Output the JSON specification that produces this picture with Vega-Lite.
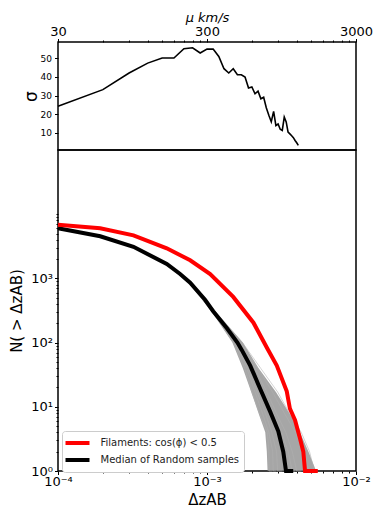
{
  "$schema": "https://vega.github.io/schema/vega-lite/v6.json",
  "padding": {"left": 8, "top": 10, "right": 5, "bottom": 5},
  "spacing": 0,
  "bounds": "flush",
  "config": {
    "font": "DejaVu Sans",
    "view": {"stroke": "black", "strokeWidth": 1.5},
    "axis": {"domain": false, "grid": false, "labelColor": "black", "tickColor": "black", "titleColor": "black", "titleFontWeight": "normal", "labelFlush": false, "labelOverlap": false, "tickWidth": 1}
  },
  "datasets": {
    "band": [
      {"n": 1000, "lo": 0.00071, "hi": 0.000735},
      {"n": 300, "lo": 0.00108, "hi": 0.00115},
      {"n": 100, "lo": 0.00148, "hi": 0.00174},
      {"n": 40, "lo": 0.00174, "hi": 0.00222},
      {"n": 17, "lo": 0.00198, "hi": 0.0029},
      {"n": 7, "lo": 0.00226, "hi": 0.0037},
      {"n": 4, "lo": 0.00246, "hi": 0.0042},
      {"n": 2, "lo": 0.00252, "hi": 0.0048},
      {"n": 1, "lo": 0.00255, "hi": 0.0054}
    ],
    "samples": [
      {"id": "A", "dz": 0.00072, "n": 1000}, {"id": "A", "dz": 0.00109, "n": 300}, {"id": "A", "dz": 0.0015, "n": 100}, {"id": "A", "dz": 0.00179, "n": 40}, {"id": "A", "dz": 0.0020, "n": 17}, {"id": "A", "dz": 0.00229, "n": 7}, {"id": "A", "dz": 0.00254, "n": 4}, {"id": "A", "dz": 0.0026, "n": 2}, {"id": "A", "dz": 0.00261, "n": 1}, {"id": "A", "dz": 0.00275, "n": 1},
      {"id": "B", "dz": 0.00072, "n": 1000}, {"id": "B", "dz": 0.0011, "n": 300}, {"id": "B", "dz": 0.00155, "n": 100}, {"id": "B", "dz": 0.00189, "n": 40}, {"id": "B", "dz": 0.00217, "n": 17}, {"id": "B", "dz": 0.00251, "n": 7}, {"id": "B", "dz": 0.00272, "n": 4}, {"id": "B", "dz": 0.00293, "n": 2}, {"id": "B", "dz": 0.00298, "n": 1}, {"id": "B", "dz": 0.0032, "n": 1},
      {"id": "C", "dz": 0.00072, "n": 1000}, {"id": "C", "dz": 0.00112, "n": 300}, {"id": "C", "dz": 0.00165, "n": 100}, {"id": "C", "dz": 0.00209, "n": 40}, {"id": "C", "dz": 0.00252, "n": 17}, {"id": "C", "dz": 0.0030, "n": 7}, {"id": "C", "dz": 0.00338, "n": 4}, {"id": "C", "dz": 0.00374, "n": 2}, {"id": "C", "dz": 0.0040, "n": 1}, {"id": "C", "dz": 0.0043, "n": 1},
      {"id": "D", "dz": 0.00072, "n": 1000}, {"id": "D", "dz": 0.00113, "n": 300}, {"id": "D", "dz": 0.00168, "n": 100}, {"id": "D", "dz": 0.00219, "n": 40}, {"id": "D", "dz": 0.00275, "n": 17}, {"id": "D", "dz": 0.00341, "n": 7}, {"id": "D", "dz": 0.00393, "n": 4}, {"id": "D", "dz": 0.00449, "n": 2}, {"id": "D", "dz": 0.00481, "n": 1}, {"id": "D", "dz": 0.0052, "n": 1},
      {"id": "E", "dz": 0.00072, "n": 1000}, {"id": "E", "dz": 0.00114, "n": 300}, {"id": "E", "dz": 0.00173, "n": 100}, {"id": "E", "dz": 0.00229, "n": 40}, {"id": "E", "dz": 0.00298, "n": 17}, {"id": "E", "dz": 0.00369, "n": 7}, {"id": "E", "dz": 0.00429, "n": 4}, {"id": "E", "dz": 0.00488, "n": 2}, {"id": "E", "dz": 0.00525, "n": 1}, {"id": "E", "dz": 0.0055, "n": 1},
      {"id": "F", "dz": 0.00072, "n": 1000}, {"id": "F", "dz": 0.00111, "n": 300}, {"id": "F", "dz": 0.0016, "n": 100}, {"id": "F", "dz": 0.00203, "n": 40}, {"id": "F", "dz": 0.0024, "n": 17}, {"id": "F", "dz": 0.00287, "n": 7}, {"id": "F", "dz": 0.00317, "n": 4}, {"id": "F", "dz": 0.00351, "n": 2}, {"id": "F", "dz": 0.00373, "n": 1}, {"id": "F", "dz": 0.0039, "n": 1},
      {"id": "G", "dz": 0.00072, "n": 1000}, {"id": "G", "dz": 0.0011, "n": 300}, {"id": "G", "dz": 0.00154, "n": 100}, {"id": "G", "dz": 0.00185, "n": 40}, {"id": "G", "dz": 0.0021, "n": 17}, {"id": "G", "dz": 0.0024, "n": 7}, {"id": "G", "dz": 0.0026, "n": 4}, {"id": "G", "dz": 0.00276, "n": 2}, {"id": "G", "dz": 0.00278, "n": 1}, {"id": "G", "dz": 0.0029, "n": 1}
    ],
    "main": [
      {"series": "Median of Random samples", "dz": 0.0001, "n": 6030},
      {"series": "Median of Random samples", "dz": 0.000192, "n": 4530},
      {"series": "Median of Random samples", "dz": 0.000321, "n": 3105},
      {"series": "Median of Random samples", "dz": 0.000537, "n": 1680},
      {"series": "Median of Random samples", "dz": 0.00066, "n": 1170},
      {"series": "Median of Random samples", "dz": 0.000771, "n": 860},
      {"series": "Median of Random samples", "dz": 0.00097, "n": 465},
      {"series": "Median of Random samples", "dz": 0.0011, "n": 308},
      {"series": "Median of Random samples", "dz": 0.00136, "n": 167},
      {"series": "Median of Random samples", "dz": 0.0016, "n": 100},
      {"series": "Median of Random samples", "dz": 0.00171, "n": 77},
      {"series": "Median of Random samples", "dz": 0.00195, "n": 43.8},
      {"series": "Median of Random samples", "dz": 0.00227, "n": 19.3},
      {"series": "Median of Random samples", "dz": 0.00265, "n": 8.5},
      {"series": "Median of Random samples", "dz": 0.00301, "n": 4.15},
      {"series": "Median of Random samples", "dz": 0.00325, "n": 2.0},
      {"series": "Median of Random samples", "dz": 0.00339, "n": 1.0},
      {"series": "Median of Random samples", "dz": 0.00379, "n": 1.0},
      {"series": "Filaments: cos(ϕ) < 0.5", "dz": 0.0001, "n": 6830},
      {"series": "Filaments: cos(ϕ) < 0.5", "dz": 0.000192, "n": 6030},
      {"series": "Filaments: cos(ϕ) < 0.5", "dz": 0.000321, "n": 4680},
      {"series": "Filaments: cos(ϕ) < 0.5", "dz": 0.000537, "n": 2945},
      {"series": "Filaments: cos(ϕ) < 0.5", "dz": 0.000771, "n": 1915},
      {"series": "Filaments: cos(ϕ) < 0.5", "dz": 0.00105, "n": 1170},
      {"series": "Filaments: cos(ϕ) < 0.5", "dz": 0.0015, "n": 514},
      {"series": "Filaments: cos(ϕ) < 0.5", "dz": 0.00205, "n": 204},
      {"series": "Filaments: cos(ϕ) < 0.5", "dz": 0.00254, "n": 81},
      {"series": "Filaments: cos(ϕ) < 0.5", "dz": 0.00294, "n": 43.8},
      {"series": "Filaments: cos(ϕ) < 0.5", "dz": 0.00343, "n": 17.4},
      {"series": "Filaments: cos(ϕ) < 0.5", "dz": 0.0036, "n": 9.4},
      {"series": "Filaments: cos(ϕ) < 0.5", "dz": 0.0039, "n": 6.2},
      {"series": "Filaments: cos(ϕ) < 0.5", "dz": 0.00421, "n": 3.2},
      {"series": "Filaments: cos(ϕ) < 0.5", "dz": 0.00443, "n": 2.0},
      {"series": "Filaments: cos(ϕ) < 0.5", "dz": 0.00455, "n": 1.0},
      {"series": "Filaments: cos(ϕ) < 0.5", "dz": 0.00554, "n": 1.0}
    ]
  },
  "vconcat": [
    {
      "width": 298,
      "height": 108,
      "data": {"values": [
        {"mu": 30, "sigma": 24.3}, {"mu": 60, "sigma": 33.2}, {"mu": 90, "sigma": 42.1}, {"mu": 120, "sigma": 47.4},
        {"mu": 150, "sigma": 50.1}, {"mu": 180, "sigma": 50.1}, {"mu": 210, "sigma": 55.1}, {"mu": 240, "sigma": 55.6},
        {"mu": 270, "sigma": 52.8}, {"mu": 300, "sigma": 54.9}, {"mu": 330, "sigma": 54.9}, {"mu": 360, "sigma": 51.0},
        {"mu": 390, "sigma": 44.4}, {"mu": 420, "sigma": 42.1}, {"mu": 450, "sigma": 44.4}, {"mu": 480, "sigma": 41.2},
        {"mu": 510, "sigma": 41.2}, {"mu": 540, "sigma": 40.0}, {"mu": 570, "sigma": 34.1}, {"mu": 600, "sigma": 34.6},
        {"mu": 630, "sigma": 31.0}, {"mu": 660, "sigma": 32.4}, {"mu": 690, "sigma": 28.3}, {"mu": 720, "sigma": 29.1},
        {"mu": 750, "sigma": 23.5}, {"mu": 780, "sigma": 19.5}, {"mu": 810, "sigma": 16.0}, {"mu": 840, "sigma": 21.6},
        {"mu": 870, "sigma": 14.0}, {"mu": 900, "sigma": 14.8}, {"mu": 930, "sigma": 12.0}, {"mu": 960, "sigma": 11.4},
        {"mu": 990, "sigma": 18.5}, {"mu": 1020, "sigma": 15.9}, {"mu": 1050, "sigma": 10.5}, {"mu": 1080, "sigma": 9.5},
        {"mu": 1110, "sigma": 8.5}, {"mu": 1140, "sigma": 7.5}, {"mu": 1170, "sigma": 6.0}, {"mu": 1200, "sigma": 4.8},
        {"mu": 1230, "sigma": 3.4}
      ]},
      "mark": {"type": "line", "color": "black", "strokeWidth": 1.6},
      "encoding": {
        "x": {
          "field": "mu", "type": "quantitative",
          "scale": {"type": "log", "domain": [30, 3000]},
          "axis": {
            "orient": "top", "title": "μ km/s", "titleFontStyle": "italic", "titleFontSize": 13, "titlePadding": 1,
            "labelFontSize": 13, "labelPadding": 0,
            "values": [30, 60, 90, 120, 150, 180, 210, 240, 270, 300, 600, 900, 1200, 1500, 1800, 2100, 2400, 2700, 3000],
            "labelExpr": "(datum.value == 30 || datum.value == 300 || datum.value == 3000) ? format(datum.value, 'd') : ''",
            "tickSize": {"condition": {"test": "datum.value == 30 || datum.value == 300 || datum.value == 3000", "value": 3.5}, "value": 2}
          }
        },
        "y": {
          "field": "sigma", "type": "quantitative",
          "scale": {"domain": [0.9, 58.7], "nice": false, "zero": false},
          "axis": {"values": [10, 20, 30, 40, 50], "title": "σ", "titleFontSize": 17, "titlePadding": 0, "labelFontSize": 9, "tickSize": 3.5, "labelPadding": 3}
        }
      }
    },
    {
      "width": 298,
      "height": 321,
      "layer": [
        {
          "data": {"name": "band"},
          "mark": {"type": "area", "orient": "horizontal", "color": "#888888", "opacity": 0.75},
          "encoding": {
            "y": {"field": "n", "type": "quantitative", "scale": {"type": "log", "domain": [1, 19600]}},
            "x": {"field": "lo", "type": "quantitative", "scale": {"type": "log", "domain": [0.0001, 0.01]}},
            "x2": {"field": "hi"}
          }
        },
        {
          "data": {"name": "samples"},
          "mark": {"type": "line", "color": "#b0b0b0", "strokeWidth": 0.8, "opacity": 0.7},
          "encoding": {
            "x": {"field": "dz", "type": "quantitative"},
            "y": {"field": "n", "type": "quantitative"},
            "detail": {"field": "id"}
          }
        },
        {
          "data": {"name": "main"},
          "mark": {"type": "line", "strokeWidth": 4},
          "encoding": {
            "x": {
              "field": "dz", "type": "quantitative",
              "axis": {
                "title": "ΔzAB", "titleFontSize": 15, "titlePadding": 4,
                "labelFontSize": 13, "labelPadding": 1,
                "values": [0.0001, 0.0002, 0.0003, 0.0004, 0.0005, 0.0006, 0.0007, 0.0008, 0.0009, 0.001, 0.002, 0.003, 0.004, 0.005, 0.006, 0.007, 0.008, 0.009, 0.01],
                "labelExpr": "datum.value == 0.0001 ? '10⁻⁴' : datum.value == 0.001 ? '10⁻³' : datum.value == 0.01 ? '10⁻²' : ''",
                "tickSize": {"condition": {"test": "datum.value == 0.0001 || datum.value == 0.001 || datum.value == 0.01", "value": 3.5}, "value": 2}
              }
            },
            "y": {
              "field": "n", "type": "quantitative",
              "axis": {
                "title": "N( > ΔzAB)", "titleFontSize": 15, "titlePadding": 6,
                "labelFontSize": 13, "labelPadding": 2,
                "values": [1, 2, 3, 4, 5, 6, 7, 8, 9, 10, 20, 30, 40, 50, 60, 70, 80, 90, 100, 200, 300, 400, 500, 600, 700, 800, 900, 1000, 2000, 3000, 4000, 5000, 6000, 7000, 8000, 9000, 10000],
                "labelExpr": "datum.value == 1 ? '10⁰' : datum.value == 10 ? '10¹' : datum.value == 100 ? '10²' : datum.value == 1000 ? '10³' : ''",
                "tickSize": {"condition": {"test": "datum.value == 1 || datum.value == 10 || datum.value == 100 || datum.value == 1000", "value": 3.5}, "value": 2}
              }
            },
            "color": {
              "field": "series", "type": "nominal",
              "scale": {"domain": ["Filaments: cos(ϕ) < 0.5", "Median of Random samples"], "range": ["red", "black"]},
              "legend": {
                "title": null, "orient": "none", "legendX": 4, "legendY": 389,
                "symbolType": "M-2,0H2", "symbolStrokeWidth": 4, "symbolSize": 144, "symbolOffset": 3.5,
                "labelFontSize": 10, "labelColor": "#222", "labelOffset": 15,
                "fillColor": "white", "strokeColor": "#cccccc", "cornerRadius": 3, "padding": 4, "rowPadding": 1
              }
            }
          }
        }
      ]
    }
  ]
}
